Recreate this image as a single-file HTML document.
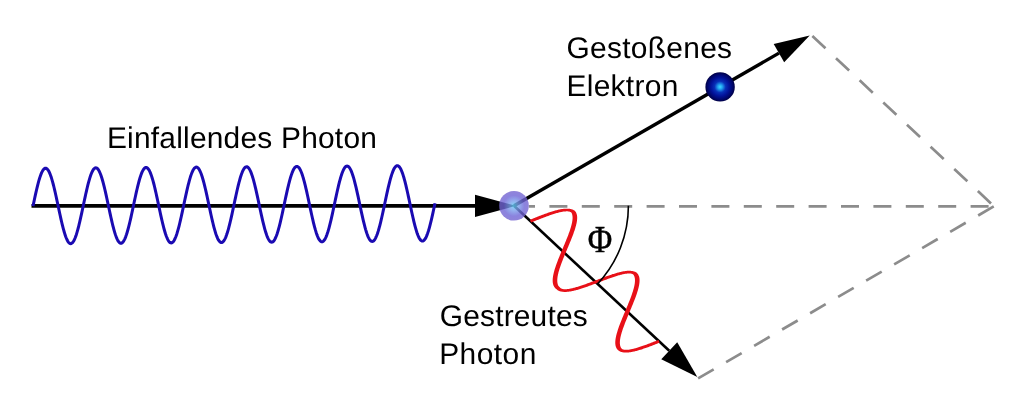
<!DOCTYPE html>
<html><head><meta charset="utf-8"><style>
html,body{margin:0;padding:0;background:#fff;}
body{width:1024px;height:410px;overflow:hidden;position:relative;}
svg{position:absolute;left:0;top:0;will-change:transform;}
.t{font-family:"Liberation Sans",sans-serif;fill:#000;font-size:29.9px;text-rendering:geometricPrecision;}
</style></head><body>
<svg width="1024" height="410" viewBox="0 0 1024 410">
<defs>
<radialGradient id="gp" cx="50%" cy="50%" r="50%">
<stop offset="0" stop-color="#60d0f8"/>
<stop offset="0.3" stop-color="#7aa0ec"/>
<stop offset="0.7" stop-color="#6e64d6"/>
<stop offset="1" stop-color="#7464d0"/>
</radialGradient>
<radialGradient id="ge" cx="50%" cy="50%" r="50%">
<stop offset="0" stop-color="#40d8ff"/>
<stop offset="0.15" stop-color="#22a4f2"/>
<stop offset="0.38" stop-color="#0830b8"/>
<stop offset="0.62" stop-color="#02129a"/>
<stop offset="0.86" stop-color="#00066a"/>
<stop offset="1" stop-color="#000044"/>
</radialGradient>
</defs>
<g fill="none" stroke="#8c8c8c" stroke-width="2.7" stroke-dasharray="18 14.4" stroke-dashoffset="-3">
<path d="M528.8 206.4 L994 206.3" stroke-dashoffset="11.8"/>
<path d="M810.6 34.4 L994 206.2" stroke-dashoffset="-2.4"/>
<path d="M698.1 378.4 L994 206.3" stroke-dashoffset="0"/>
</g>
<path d="M31.5 205.85 L476 205.85" stroke="#000" stroke-width="3.8" fill="none"/>
<path d="M516 205.85 L475 217 L475 194.7 Z" fill="#000"/>
<path d="M33 206.1 L33.5 203.72 L34.01 201.36 L34.51 199.01 L35.01 196.69 L35.51 194.4 L36.02 192.16 L36.52 189.98 L37.02 187.86 L37.52 185.81 L38.02 183.85 L38.53 181.97 L39.03 180.18 L39.53 178.5 L40.03 176.92 L40.54 175.46 L41.04 174.13 L41.54 172.91 L42.05 171.83 L42.55 170.89 L43.05 170.08 L43.55 169.41 L44.05 168.89 L44.56 168.51 L45.06 168.29 L45.56 168.21 L46.06 168.28 L46.57 168.5 L47.07 168.87 L47.57 169.38 L48.08 170.04 L48.58 170.84 L49.08 171.78 L49.58 172.86 L50.09 174.06 L50.59 175.39 L51.09 176.84 L51.59 178.41 L52.09 180.09 L52.6 181.86 L53.1 183.74 L53.6 185.7 L54.11 187.74 L54.61 189.85 L55.11 192.03 L55.61 194.26 L56.11 196.53 L56.62 198.85 L57.12 201.19 L57.62 203.55 L58.12 205.92 L58.63 208.29 L59.13 210.65 L59.63 212.99 L60.14 215.3 L60.64 217.58 L61.14 219.81 L61.64 221.99 L62.14 224.1 L62.65 226.14 L63.15 228.1 L63.65 229.97 L64.16 231.75 L64.66 233.43 L65.16 234.99 L65.66 236.45 L66.16 237.78 L66.67 238.98 L67.17 240.06 L67.67 241 L68.17 241.8 L68.68 242.46 L69.18 242.97 L69.68 243.34 L70.19 243.56 L70.69 243.63 L71.19 243.55 L71.69 243.32 L72.19 242.95 L72.7 242.43 L73.2 241.76 L73.7 240.95 L74.2 240.01 L74.71 238.92 L75.21 237.71 L75.71 236.37 L76.22 234.91 L76.72 233.34 L77.22 231.66 L77.72 229.87 L78.22 227.99 L78.73 226.02 L79.23 223.98 L79.73 221.86 L80.23 219.67 L80.74 217.44 L81.24 215.15 L81.74 212.83 L82.25 210.48 L82.75 208.11 L83.25 205.74 L83.75 203.36 L84.25 200.99 L84.76 198.64 L85.26 196.32 L85.76 194.04 L86.27 191.8 L86.77 189.62 L87.27 187.5 L87.77 185.45 L88.28 183.48 L88.78 181.6 L89.28 179.82 L89.78 178.14 L90.28 176.56 L90.79 175.1 L91.29 173.76 L91.79 172.55 L92.3 171.47 L92.8 170.52 L93.3 169.72 L93.8 169.05 L94.31 168.53 L94.81 168.15 L95.31 167.93 L95.81 167.85 L96.31 167.92 L96.82 168.14 L97.32 168.51 L97.82 169.02 L98.33 169.68 L98.83 170.48 L99.33 171.42 L99.83 172.49 L100.33 173.7 L100.84 175.03 L101.34 176.48 L101.84 178.05 L102.34 179.72 L102.85 181.5 L103.35 183.37 L103.85 185.33 L104.36 187.37 L104.86 189.49 L105.36 191.66 L105.86 193.89 L106.36 196.17 L106.87 198.48 L107.37 200.83 L107.87 203.19 L108.38 205.56 L108.88 207.93 L109.38 210.29 L109.88 212.63 L110.39 214.94 L110.89 217.22 L111.39 219.45 L111.89 221.63 L112.39 223.74 L112.9 225.78 L113.4 227.74 L113.9 229.61 L114.41 231.39 L114.91 233.06 L115.41 234.63 L115.91 236.08 L116.42 237.41 L116.92 238.62 L117.42 239.69 L117.92 240.63 L118.42 241.43 L118.93 242.09 L119.43 242.61 L119.93 242.97 L120.44 243.19 L120.94 243.27 L121.44 243.19 L121.94 242.96 L122.44 242.59 L122.95 242.06 L123.45 241.4 L123.95 240.59 L124.45 239.64 L124.96 238.56 L125.46 237.35 L125.96 236.01 L126.47 234.55 L126.97 232.98 L127.47 231.29 L127.97 229.51 L128.47 227.63 L128.98 225.66 L129.48 223.61 L129.98 221.49 L130.49 219.31 L130.99 217.07 L131.49 214.79 L131.99 212.47 L132.5 210.12 L133 207.75 L133.5 205.38 L134 203 L134.5 200.63 L135.01 198.28 L135.51 195.96 L136.01 193.68 L136.51 191.44 L137.02 189.26 L137.52 187.14 L138.02 185.09 L138.53 183.12 L139.03 181.24 L139.53 179.46 L140.03 177.77 L140.53 176.2 L141.04 174.74 L141.54 173.4 L142.04 172.19 L142.55 171.11 L143.05 170.16 L143.55 169.35 L144.05 168.69 L144.56 168.16 L145.06 167.79 L145.56 167.56 L146.06 167.48 L146.56 167.56 L147.07 167.78 L147.57 168.14 L148.07 168.66 L148.57 169.32 L149.08 170.12 L149.58 171.06 L150.08 172.13 L150.58 173.34 L151.09 174.67 L151.59 176.12 L152.09 177.69 L152.59 179.36 L153.1 181.14 L153.6 183.01 L154.1 184.97 L154.61 187.01 L155.11 189.12 L155.61 191.3 L156.11 193.53 L156.62 195.81 L157.12 198.12 L157.62 200.46 L158.12 202.82 L158.62 205.19 L159.13 207.56 L159.63 209.92 L160.13 212.27 L160.63 214.58 L161.14 216.86 L161.64 219.09 L162.14 221.26 L162.65 223.38 L163.15 225.42 L163.65 227.38 L164.15 229.25 L164.66 231.03 L165.16 232.7 L165.66 234.27 L166.16 235.72 L166.66 237.05 L167.17 238.26 L167.67 239.33 L168.17 240.27 L168.68 241.07 L169.18 241.73 L169.68 242.24 L170.18 242.61 L170.69 242.83 L171.19 242.9 L171.69 242.82 L172.19 242.6 L172.69 242.22 L173.2 241.7 L173.7 241.03 L174.2 240.23 L174.71 239.28 L175.21 238.2 L175.71 236.99 L176.21 235.65 L176.72 234.19 L177.22 232.61 L177.72 230.93 L178.22 229.15 L178.72 227.27 L179.23 225.3 L179.73 223.25 L180.23 221.13 L180.74 218.95 L181.24 216.71 L181.74 214.43 L182.24 212.11 L182.75 209.76 L183.25 207.39 L183.75 205.01 L184.25 202.64 L184.75 200.27 L185.26 197.92 L185.76 195.6 L186.26 193.31 L186.76 191.08 L187.27 188.89 L187.77 186.77 L188.27 184.73 L188.78 182.76 L189.28 180.88 L189.78 179.09 L190.28 177.41 L190.78 175.84 L191.29 174.38 L191.79 173.04 L192.29 171.83 L192.79 170.74 L193.3 169.8 L193.8 168.99 L194.3 168.32 L194.81 167.8 L195.31 167.43 L195.81 167.2 L196.31 167.12 L196.81 167.19 L197.32 167.41 L197.82 167.78 L198.32 168.29 L198.82 168.95 L199.33 169.75 L199.83 170.69 L200.33 171.77 L200.84 172.97 L201.34 174.3 L201.84 175.76 L202.34 177.32 L202.84 179 L203.35 180.78 L203.85 182.65 L204.35 184.61 L204.85 186.65 L205.36 188.76 L205.86 190.94 L206.36 193.17 L206.87 195.45 L207.37 197.76 L207.87 200.1 L208.37 202.46 L208.88 204.83 L209.38 207.2 L209.88 209.56 L210.38 211.9 L210.88 214.22 L211.39 216.49 L211.89 218.72 L212.39 220.9 L212.9 223.01 L213.4 225.05 L213.9 227.01 L214.4 228.89 L214.91 230.66 L215.41 232.34 L215.91 233.91 L216.41 235.36 L216.91 236.69 L217.42 237.89 L217.92 238.97 L218.42 239.91 L218.93 240.71 L219.43 241.37 L219.93 241.88 L220.43 242.25 L220.94 242.47 L221.44 242.54 L221.94 242.46 L222.44 242.24 L222.94 241.86 L223.45 241.34 L223.95 240.67 L224.45 239.86 L224.96 238.92 L225.46 237.84 L225.96 236.62 L226.46 235.29 L226.97 233.83 L227.47 232.25 L227.97 230.57 L228.47 228.78 L228.97 226.9 L229.48 224.94 L229.98 222.89 L230.48 220.77 L230.99 218.59 L231.49 216.35 L231.99 214.06 L232.49 211.74 L233 209.39 L233.5 207.03 L234 204.65 L234.5 202.27 L235 199.91 L235.51 197.56 L236.01 195.24 L236.51 192.95 L237.01 190.71 L237.52 188.53 L238.02 186.41 L238.52 184.36 L239.03 182.4 L239.53 180.52 L240.03 178.73 L240.53 177.05 L241.03 175.47 L241.54 174.01 L242.04 172.68 L242.54 171.46 L243.04 170.38 L243.55 169.44 L244.05 168.63 L244.55 167.96 L245.06 167.44 L245.56 167.06 L246.06 166.84 L246.56 166.76 L247.06 166.83 L247.57 167.05 L248.07 167.42 L248.57 167.93 L249.07 168.59 L249.58 169.39 L250.08 170.33 L250.58 171.41 L251.09 172.61 L251.59 173.94 L252.09 175.39 L252.59 176.96 L253.09 178.64 L253.6 180.41 L254.1 182.29 L254.6 184.25 L255.1 186.29 L255.61 188.4 L256.11 190.58 L256.61 192.81 L257.12 195.08 L257.62 197.4 L258.12 199.74 L258.62 202.1 L259.12 204.47 L259.63 206.84 L260.13 209.2 L260.63 211.54 L261.13 213.85 L261.64 216.13 L262.14 218.36 L262.64 220.54 L263.14 222.65 L263.65 224.69 L264.15 226.65 L264.65 228.52 L265.15 230.3 L265.66 231.98 L266.16 233.54 L266.66 235 L267.16 236.33 L267.67 237.53 L268.17 238.61 L268.67 239.55 L269.18 240.35 L269.68 241.01 L270.18 241.52 L270.68 241.89 L271.19 242.11 L271.69 242.18 L272.19 242.1 L272.69 241.87 L273.19 241.5 L273.7 240.98 L274.2 240.31 L274.7 239.5 L275.21 238.56 L275.71 237.47 L276.21 236.26 L276.71 234.92 L277.22 233.46 L277.72 231.89 L278.22 230.21 L278.72 228.42 L279.23 226.54 L279.73 224.57 L280.23 222.53 L280.73 220.41 L281.24 218.22 L281.74 215.99 L282.24 213.7 L282.74 211.38 L283.25 209.03 L283.75 206.66 L284.25 204.29 L284.75 201.91 L285.25 199.54 L285.76 197.19 L286.26 194.87 L286.76 192.59 L287.26 190.35 L287.77 188.17 L288.27 186.05 L288.77 184 L289.27 182.03 L289.78 180.15 L290.28 178.37 L290.78 176.69 L291.29 175.11 L291.79 173.65 L292.29 172.31 L292.79 171.1 L293.3 170.02 L293.8 169.07 L294.3 168.27 L294.8 167.6 L295.31 167.08 L295.81 166.7 L296.31 166.48 L296.81 166.4 L297.31 166.47 L297.82 166.69 L298.32 167.06 L298.82 167.57 L299.32 168.23 L299.83 169.03 L300.33 169.97 L300.83 171.04 L301.33 172.25 L301.84 173.58 L302.34 175.03 L302.84 176.6 L303.35 178.27 L303.85 180.05 L304.35 181.92 L304.85 183.88 L305.36 185.92 L305.86 188.04 L306.36 190.21 L306.86 192.44 L307.37 194.72 L307.87 197.03 L308.37 199.38 L308.87 201.74 L309.38 204.11 L309.88 206.48 L310.38 208.84 L310.88 211.18 L311.38 213.49 L311.89 215.77 L312.39 218 L312.89 220.18 L313.39 222.29 L313.9 224.33 L314.4 226.29 L314.9 228.16 L315.4 229.94 L315.91 231.61 L316.41 233.18 L316.91 234.63 L317.42 235.96 L317.92 237.17 L318.42 238.24 L318.92 239.18 L319.43 239.98 L319.93 240.64 L320.43 241.16 L320.93 241.52 L321.44 241.74 L321.94 241.82 L322.44 241.74 L322.94 241.51 L323.44 241.14 L323.95 240.61 L324.45 239.95 L324.95 239.14 L325.45 238.19 L325.96 237.11 L326.46 235.9 L326.96 234.56 L327.46 233.1 L327.97 231.53 L328.47 229.84 L328.97 228.06 L329.48 226.18 L329.98 224.21 L330.48 222.16 L330.98 220.04 L331.49 217.86 L331.99 215.62 L332.49 213.34 L332.99 211.02 L333.5 208.67 L334 206.3 L334.5 203.93 L335 201.55 L335.5 199.18 L336.01 196.83 L336.51 194.51 L337.01 192.23 L337.51 189.99 L338.02 187.81 L338.52 185.69 L339.02 183.64 L339.52 181.67 L340.03 179.79 L340.53 178.01 L341.03 176.32 L341.54 174.75 L342.04 173.29 L342.54 171.95 L343.04 170.74 L343.55 169.66 L344.05 168.71 L344.55 167.9 L345.05 167.24 L345.56 166.71 L346.06 166.34 L346.56 166.11 L347.06 166.03 L347.56 166.11 L348.07 166.33 L348.57 166.69 L349.07 167.21 L349.57 167.87 L350.08 168.67 L350.58 169.61 L351.08 170.68 L351.58 171.89 L352.09 173.22 L352.59 174.67 L353.09 176.24 L353.6 177.91 L354.1 179.69 L354.6 181.56 L355.1 183.52 L355.61 185.56 L356.11 187.67 L356.61 189.85 L357.11 192.08 L357.62 194.36 L358.12 196.67 L358.62 199.01 L359.12 201.37 L359.62 203.74 L360.13 206.11 L360.63 208.47 L361.13 210.82 L361.63 213.13 L362.14 215.41 L362.64 217.64 L363.14 219.81 L363.64 221.93 L364.15 223.97 L364.65 225.93 L365.15 227.8 L365.65 229.58 L366.16 231.25 L366.66 232.82 L367.16 234.27 L367.67 235.6 L368.17 236.81 L368.67 237.88 L369.17 238.82 L369.68 239.62 L370.18 240.28 L370.68 240.79 L371.18 241.16 L371.69 241.38 L372.19 241.45 L372.69 241.37 L373.19 241.15 L373.69 240.77 L374.2 240.25 L374.7 239.58 L375.2 238.78 L375.7 237.83 L376.21 236.75 L376.71 235.54 L377.21 234.2 L377.71 232.74 L378.22 231.16 L378.72 229.48 L379.22 227.7 L379.73 225.82 L380.23 223.85 L380.73 221.8 L381.23 219.68 L381.74 217.5 L382.24 215.26 L382.74 212.98 L383.24 210.66 L383.75 208.31 L384.25 205.94 L384.75 203.56 L385.25 201.19 L385.75 198.82 L386.26 196.47 L386.76 194.15 L387.26 191.86 L387.76 189.63 L388.27 187.44 L388.77 185.32 L389.27 183.28 L389.77 181.31 L390.28 179.43 L390.78 177.64 L391.28 175.96 L391.79 174.39 L392.29 172.93 L392.79 171.59 L393.29 170.38 L393.8 169.29 L394.3 168.35 L394.8 167.54 L395.3 166.87 L395.81 166.35 L396.31 165.98 L396.81 165.75 L397.31 165.67 L397.81 165.74 L398.32 165.96 L398.82 166.33 L399.32 166.84 L399.82 167.5 L400.33 168.3 L400.83 169.24 L401.33 170.32 L401.83 171.52 L402.34 172.85 L402.84 174.31 L403.34 175.87 L403.85 177.55 L404.35 179.33 L404.85 181.2 L405.35 183.16 L405.86 185.2 L406.36 187.31 L406.86 189.49 L407.36 191.72 L407.87 194 L408.37 196.31 L408.87 198.65 L409.37 201.01 L409.88 203.38 L410.38 205.75 L410.88 208.11 L411.38 210.45 L411.88 212.77 L412.39 215.04 L412.89 217.27 L413.39 219.45 L413.89 221.56 L414.4 223.6 L414.9 225.56 L415.4 227.44 L415.9 229.21 L416.41 230.89 L416.91 232.46 L417.41 233.91 L417.92 235.24 L418.42 236.44 L418.92 237.52 L419.42 238.46 L419.93 239.26 L420.43 239.92 L420.93 240.43 L421.43 240.8 L421.94 241.02 L422.44 241.09 L422.94 241.01 L423.44 240.79 L423.94 240.41 L424.45 239.89 L424.95 239.22 L425.45 238.41 L425.95 237.47 L426.46 236.39 L426.96 235.17 L427.46 233.84 L427.96 232.38 L428.47 230.8 L428.97 229.12 L429.47 227.33 L429.98 225.45 L430.48 223.49 L430.98 221.44 L431.48 219.32 L431.99 217.14 L432.49 214.9 L432.99 212.61 L433.49 210.29 L434 207.94 L434.5 205.58 L435 203.2" fill="none" stroke="#1a0ab2" stroke-width="3.0"/>
<path d="M514 205.8 L778.94 53.12" stroke="#000" stroke-width="3.4" fill="none"/>
<path d="M809.7 35.4 L784.18 62.22 L773.7 44.03 Z" fill="#000"/>
<path d="M514 205.8 L669.24 350.79" stroke="#000" stroke-width="2.6" fill="none"/>
<path d="M697.3 377 L661.25 359.34 L677.22 342.24 Z" fill="#000"/>
<path d="M531.01 222.57 L531.93 222.2 L532.86 221.82 L533.78 221.45 L534.7 221.09 L535.62 220.72 L536.53 220.35 L537.45 219.99 L538.36 219.63 L539.26 219.27 L540.17 218.92 L541.06 218.57 L541.96 218.22 L542.84 217.88 L543.73 217.54 L544.6 217.21 L545.47 216.89 L546.33 216.57 L547.19 216.25 L548.03 215.95 L548.87 215.65 L549.7 215.35 L550.52 215.07 L551.33 214.79 L552.14 214.53 L552.93 214.27 L553.71 214.02 L554.48 213.77 L555.24 213.54 L555.99 213.32 L556.73 213.11 L557.45 212.91 L558.16 212.72 L558.86 212.54 L559.55 212.37 L560.22 212.22 L560.88 212.07 L561.52 211.94 L562.15 211.82 L562.77 211.71 L563.37 211.62 L563.95 211.54 L564.52 211.47 L565.07 211.41 L565.61 211.38 L566.13 211.35 L566.63 211.34 L567.11 211.34 L567.58 211.36 L568.03 211.4 L568.46 211.45 L568.86 211.52 L569.25 211.6 L569.62 211.7 L569.96 211.82 L570.28 211.95 L570.58 212.09 L570.85 212.25 L571.1 212.43 L571.32 212.61 L571.52 212.8 L571.69 213 L571.78 213.19 L571.78 213.35 L571.83 213.55 L571.92 213.78 L572.01 214.02 L572.09 214.27 L572.17 214.54 L572.25 214.81 L572.31 215.1 L572.37 215.41 L572.43 215.74 L572.48 216.08 L572.51 216.44 L572.54 216.82 L572.56 217.22 L572.57 217.64 L572.57 218.07 L572.56 218.53 L572.53 219 L572.49 219.48 L572.44 219.99 L572.38 220.51 L572.3 221.05 L572.21 221.6 L572.11 222.17 L572 222.75 L571.88 223.34 L571.74 223.95 L571.59 224.57 L571.43 225.2 L571.26 225.85 L571.08 226.51 L570.88 227.17 L570.68 227.85 L570.47 228.54 L570.24 229.24 L570.01 229.95 L569.77 230.67 L569.52 231.39 L569.26 232.13 L568.99 232.87 L568.72 233.62 L568.44 234.38 L568.15 235.14 L567.86 235.91 L567.55 236.69 L567.25 237.47 L566.94 238.26 L566.62 239.05 L566.3 239.85 L565.97 240.65 L565.64 241.45 L565.31 242.26 L564.98 243.07 L564.64 243.88 L564.3 244.7 L563.96 245.51 L563.61 246.33 L563.27 247.15 L562.92 247.97 L562.58 248.79 L562.23 249.61 L561.89 250.43 L561.55 251.25 L561.21 252.07 L560.87 252.88 L560.53 253.7 L560.19 254.51 L559.86 255.32 L559.53 256.13 L559.21 256.93 L558.88 257.73 L558.57 258.53 L558.25 259.32 L557.95 260.11 L557.64 260.89 L557.35 261.67 L557.06 262.44 L556.77 263.21 L556.5 263.97 L556.23 264.72 L555.96 265.47 L555.71 266.22 L555.46 266.95 L555.22 267.68 L554.99 268.4 L554.77 269.12 L554.56 269.82 L554.36 270.52 L554.16 271.21 L553.98 271.89 L553.81 272.57 L553.65 273.23 L553.5 273.89 L553.36 274.54 L553.23 275.18 L553.12 275.81 L553.01 276.44 L552.92 277.05 L552.84 277.66 L552.78 278.26 L552.73 278.84 L552.69 279.42 L552.67 280 L552.67 280.56 L552.68 281.11 L552.7 281.66 L552.75 282.2 L552.81 282.72 L552.89 283.24 L552.99 283.75 L553.11 284.25 L553.25 284.73 L553.42 285.21 L553.6 285.67 L553.81 286.12 L554.04 286.55 L554.29 286.96 L554.56 287.36 L554.86 287.74 L555.17 288.09 L555.5 288.43 L555.85 288.74 L556.22 289.04 L556.59 289.31 L556.89 289.54 L557.07 289.75 L557.33 289.98 L557.7 290.23 L558.08 290.45 L558.47 290.65 L558.86 290.83 L559.27 291 L559.68 291.14 L560.1 291.27 L560.53 291.39 L560.97 291.5 L561.41 291.59 L561.86 291.67 L562.32 291.74 L562.79 291.8 L563.27 291.84 L563.76 291.88 L564.26 291.9 L564.77 291.91 L565.3 291.91 L565.83 291.9 L566.37 291.88 L566.93 291.85 L567.49 291.8 L568.07 291.75 L568.66 291.68 L569.25 291.6 L569.86 291.52 L570.48 291.42 L571.11 291.31 L571.75 291.19 L572.4 291.06 L573.06 290.92 L573.72 290.77 L574.4 290.61 L575.09 290.44 L575.78 290.26 L576.49 290.08 L577.2 289.88 L577.92 289.68 L578.65 289.47 L579.39 289.25 L580.13 289.02 L580.88 288.79 L581.64 288.55 L582.41 288.3 L583.18 288.05 L583.95 287.79 L584.73 287.52 L585.52 287.25 L586.31 286.97 L587.11 286.69 L587.91 286.41 L588.72 286.12 L589.53 285.82 L590.34 285.53 L591.16 285.23 L591.97 284.93 L592.79 284.62 L593.62 284.31 L594.44 284 L595.27 283.69 L596.09 283.38 L596.92 283.07 L597.74 282.75 L598.57 282.44 L599.4 282.13 L600.22 281.82 L601.04 281.5 L601.86 281.19 L602.68 280.88 L603.5 280.58 L604.31 280.27 L605.12 279.97 L605.93 279.67 L606.73 279.38 L607.53 279.08 L608.33 278.8 L609.12 278.51 L609.9 278.23 L610.68 277.96 L611.45 277.69 L612.21 277.43 L612.97 277.17 L613.72 276.92 L614.46 276.67 L615.2 276.43 L615.93 276.2 L616.64 275.98 L617.35 275.76 L618.05 275.56 L618.74 275.36 L619.42 275.16 L620.09 274.98 L620.75 274.81 L621.4 274.65 L622.03 274.49 L622.66 274.35 L623.27 274.21 L623.87 274.09 L624.46 273.98 L625.04 273.87 L625.6 273.78 L626.15 273.7 L626.68 273.64 L627.2 273.58 L627.71 273.54 L628.2 273.51 L628.68 273.49 L629.14 273.48 L629.58 273.49 L630.01 273.52 L630.42 273.55 L630.81 273.6 L631.18 273.67 L631.54 273.75 L631.88 273.85 L632.19 273.96 L632.48 274.08 L632.75 274.22 L633 274.37 L633.23 274.53 L633.43 274.7 L633.61 274.88 L633.73 275.06 L633.8 275.24 L633.9 275.45 L634.02 275.67 L634.13 275.9 L634.23 276.13 L634.33 276.37 L634.42 276.62 L634.5 276.88 L634.58 277.15 L634.65 277.43 L634.72 277.73 L634.78 278.04 L634.83 278.37 L634.88 278.72 L634.92 279.08 L634.94 279.46 L634.96 279.86 L634.97 280.28 L634.97 280.71 L634.96 281.16 L634.93 281.62 L634.9 282.1 L634.85 282.6 L634.79 283.11 L634.72 283.63 L634.64 284.17 L634.54 284.73 L634.44 285.3 L634.32 285.88 L634.19 286.47 L634.05 287.08 L633.9 287.7 L633.74 288.33 L633.56 288.97 L633.38 289.62 L633.19 290.29 L632.98 290.96 L632.77 291.64 L632.55 292.33 L632.32 293.04 L632.08 293.75 L631.83 294.46 L631.58 295.19 L631.31 295.92 L631.04 296.66 L630.76 297.41 L630.48 298.17 L630.19 298.93 L629.89 299.69 L629.59 300.46 L629.29 301.24 L628.97 302.02 L628.66 302.81 L628.34 303.6 L628.01 304.39 L627.69 305.19 L627.36 305.99 L627.02 306.79 L626.69 307.59 L626.35 308.4 L626.01 309.2 L625.68 310.01 L625.34 310.82 L625 311.63 L624.66 312.44 L624.32 313.25 L623.98 314.06 L623.64 314.86 L623.31 315.67 L622.97 316.47 L622.64 317.28 L622.31 318.08 L621.99 318.87 L621.67 319.67 L621.35 320.46 L621.04 321.24 L620.73 322.03 L620.42 322.8 L620.13 323.58 L619.83 324.35 L619.55 325.11 L619.26 325.87 L618.99 326.62 L618.72 327.37 L618.46 328.11 L618.21 328.84 L617.97 329.57 L617.73 330.29 L617.51 331 L617.29 331.7 L617.08 332.4 L616.88 333.09 L616.69 333.77 L616.51 334.45 L616.34 335.11 L616.18 335.77 L616.04 336.42 L615.9 337.06 L615.78 337.69 L615.67 338.32 L615.57 338.93 L615.48 339.54 L615.41 340.13 L615.35 340.72 L615.31 341.3 L615.28 341.88 L615.27 342.44 L615.27 342.99 L615.29 343.54 L615.33 344.08 L615.39 344.6 L615.46 345.12 L615.56 345.63 L615.68 346.13 L615.82 346.62 L615.98 347.09 L616.17 347.55 L616.38 348 L616.62 348.43 L616.88 348.84 L617.16 349.23 L617.47 349.6 L617.8 349.95 L618.14 350.28 L618.5 350.58 L618.87 350.84 L619.25 351.08 L619.64 351.3 L620.04 351.49 L620.45 351.66 L620.86 351.81 L621.28 351.95 L621.71 352.07 L622.15 352.17 L622.6 352.27 L623.05 352.35 L623.51 352.41 L623.99 352.47 L624.47 352.51 L624.96 352.54 L625.47 352.56 L625.98 352.57 L626.51 352.57 L627.05 352.55 L627.6 352.52 L628.16 352.48 L628.73 352.43 L629.32 352.36 L629.91 352.29 L630.52 352.2 L631.14 352.1 L631.77 351.99 L632.41 351.87 L633.06 351.74 L633.72 351.59 L634.39 351.44 L635.07 351.28 L635.76 351.1 L636.46 350.92 L637.17 350.73 L637.89 350.52 L638.62 350.31 L639.36 350.09 L640.1 349.86 L640.85 349.63 L641.62 349.38 L642.38 349.13 L643.16 348.87 L643.94 348.61 L644.73 348.34 L645.52 348.06 L646.32 347.77 L647.13 347.48 L647.94 347.19 L648.75 346.89 L649.57 346.58 L650.4 346.28 L651.22 345.96 L652.05 345.65 L652.89 345.33 L653.72 345 L654.56 344.68 L655.4 344.35 L656.24 344.02 L657.09 343.69 L657.93 343.36 L658.78 343.03 L659.62 342.7 L658.51 339.88 L657.67 340.22 L656.83 340.55 L655.98 340.88 L655.14 341.21 L654.3 341.54 L653.47 341.87 L652.63 342.19 L651.8 342.51 L650.97 342.83 L650.15 343.15 L649.33 343.46 L648.52 343.77 L647.71 344.08 L646.9 344.38 L646.1 344.68 L645.31 344.97 L644.52 345.25 L643.74 345.53 L642.97 345.81 L642.2 346.08 L641.44 346.34 L640.69 346.59 L639.95 346.84 L639.22 347.08 L638.5 347.31 L637.78 347.53 L637.08 347.74 L636.39 347.95 L635.7 348.15 L635.03 348.33 L634.37 348.51 L633.72 348.68 L633.08 348.84 L632.45 348.99 L631.84 349.12 L631.24 349.25 L630.65 349.37 L630.08 349.47 L629.52 349.56 L628.97 349.65 L628.43 349.71 L627.92 349.77 L627.41 349.82 L626.92 349.85 L626.45 349.87 L625.99 349.87 L625.55 349.86 L625.13 349.84 L624.72 349.8 L624.33 349.75 L623.96 349.68 L623.61 349.6 L623.28 349.51 L622.96 349.4 L622.68 349.27 L622.41 349.13 L622.16 348.98 L621.94 348.82 L621.74 348.65 L621.57 348.47 L621.41 348.29 L621.27 348.1 L621.13 347.9 L620.99 347.68 L620.86 347.46 L620.75 347.23 L620.64 347 L620.54 346.76 L620.45 346.51 L620.37 346.25 L620.29 345.99 L620.21 345.71 L620.14 345.41 L620.08 345.1 L620.03 344.78 L619.98 344.44 L619.94 344.08 L619.9 343.7 L619.88 343.31 L619.87 342.9 L619.87 342.48 L619.88 342.03 L619.9 341.57 L619.93 341.1 L619.97 340.61 L620.02 340.1 L620.09 339.58 L620.17 339.05 L620.26 338.5 L620.36 337.94 L620.47 337.36 L620.6 336.77 L620.73 336.17 L620.88 335.55 L621.04 334.93 L621.21 334.29 L621.39 333.64 L621.58 332.98 L621.77 332.32 L621.98 331.64 L622.2 330.95 L622.43 330.25 L622.66 329.55 L622.91 328.83 L623.16 328.11 L623.42 327.38 L623.69 326.64 L623.96 325.9 L624.24 325.14 L624.53 324.39 L624.82 323.62 L625.12 322.85 L625.43 322.08 L625.74 321.3 L626.05 320.52 L626.37 319.73 L626.69 318.94 L627.02 318.14 L627.35 317.34 L627.68 316.54 L628.01 315.74 L628.35 314.94 L628.69 314.13 L629.02 313.32 L629.36 312.51 L629.7 311.7 L630.04 310.89 L630.38 310.09 L630.72 309.28 L631.06 308.47 L631.39 307.66 L631.73 306.86 L632.06 306.05 L632.39 305.25 L632.72 304.46 L633.04 303.66 L633.36 302.87 L633.68 302.08 L633.99 301.3 L634.29 300.52 L634.59 299.74 L634.89 298.97 L635.18 298.2 L635.46 297.44 L635.74 296.69 L636.01 295.94 L636.27 295.2 L636.53 294.46 L636.78 293.73 L637.01 293.01 L637.25 292.29 L637.47 291.58 L637.68 290.88 L637.88 290.19 L638.08 289.5 L638.26 288.83 L638.43 288.16 L638.6 287.5 L638.75 286.84 L638.89 286.2 L639.02 285.56 L639.13 284.94 L639.24 284.32 L639.33 283.71 L639.4 283.11 L639.47 282.51 L639.52 281.93 L639.55 281.36 L639.57 280.79 L639.57 280.23 L639.56 279.68 L639.53 279.14 L639.48 278.61 L639.41 278.09 L639.32 277.57 L639.2 277.07 L639.07 276.58 L638.91 276.1 L638.73 275.64 L638.53 275.18 L638.3 274.75 L638.04 274.33 L637.77 273.93 L637.46 273.56 L637.14 273.2 L636.8 272.87 L636.4 272.55 L635.95 272.27 L635.52 272.05 L635.12 271.86 L634.71 271.69 L634.29 271.54 L633.86 271.4 L633.43 271.28 L632.99 271.18 L632.55 271.09 L632.09 271.01 L631.62 270.94 L631.15 270.89 L630.66 270.84 L630.17 270.81 L629.66 270.79 L629.15 270.78 L628.62 270.79 L628.08 270.8 L627.53 270.83 L626.96 270.87 L626.39 270.92 L625.81 270.99 L625.21 271.06 L624.6 271.15 L623.99 271.24 L623.36 271.35 L622.72 271.47 L622.07 271.6 L621.41 271.74 L620.74 271.89 L620.06 272.05 L619.37 272.22 L618.68 272.4 L617.97 272.58 L617.26 272.78 L616.54 272.98 L615.8 273.2 L615.07 273.42 L614.32 273.65 L613.57 273.88 L612.81 274.12 L612.04 274.37 L611.27 274.63 L610.49 274.89 L609.7 275.16 L608.91 275.43 L608.12 275.71 L607.32 275.99 L606.52 276.28 L605.71 276.57 L604.9 276.87 L604.09 277.16 L603.27 277.47 L602.45 277.77 L601.63 278.08 L600.81 278.38 L599.98 278.69 L599.16 279.01 L598.33 279.32 L597.5 279.63 L596.68 279.94 L595.85 280.26 L595.03 280.57 L594.2 280.88 L593.38 281.19 L592.56 281.5 L591.74 281.81 L590.93 282.12 L590.11 282.42 L589.31 282.72 L588.5 283.02 L587.7 283.31 L586.9 283.6 L586.11 283.89 L585.32 284.17 L584.54 284.45 L583.77 284.72 L583 284.99 L582.24 285.25 L581.48 285.51 L580.73 285.76 L579.99 286 L579.26 286.23 L578.53 286.46 L577.82 286.69 L577.11 286.9 L576.41 287.11 L575.72 287.3 L575.04 287.49 L574.37 287.68 L573.72 287.85 L573.07 288.01 L572.43 288.17 L571.81 288.31 L571.19 288.44 L570.59 288.57 L570 288.68 L569.42 288.79 L568.85 288.88 L568.3 288.96 L567.76 289.03 L567.23 289.09 L566.72 289.14 L566.22 289.18 L565.74 289.2 L565.27 289.21 L564.81 289.21 L564.37 289.2 L563.95 289.17 L563.54 289.13 L563.15 289.08 L562.78 289.01 L562.42 288.93 L562.08 288.83 L561.76 288.72 L561.46 288.6 L561.18 288.46 L560.92 288.32 L560.68 288.16 L560.47 287.99 L560.27 287.82 L560.09 287.63 L559.93 287.45 L559.79 287.25 L559.56 287.03 L559.21 286.78 L558.93 286.55 L558.76 286.33 L558.61 286.11 L558.47 285.88 L558.34 285.65 L558.22 285.41 L558.1 285.17 L558 284.92 L557.9 284.66 L557.81 284.39 L557.73 284.11 L557.65 283.82 L557.57 283.52 L557.51 283.2 L557.45 282.87 L557.4 282.52 L557.35 282.16 L557.32 281.78 L557.29 281.38 L557.27 280.97 L557.27 280.54 L557.27 280.1 L557.29 279.64 L557.31 279.17 L557.35 278.67 L557.4 278.17 L557.46 277.65 L557.53 277.12 L557.61 276.57 L557.71 276.01 L557.81 275.43 L557.93 274.84 L558.06 274.24 L558.2 273.63 L558.35 273.01 L558.51 272.37 L558.68 271.72 L558.87 271.07 L559.06 270.4 L559.26 269.72 L559.47 269.03 L559.69 268.33 L559.92 267.63 L560.16 266.91 L560.41 266.19 L560.67 265.46 L560.93 264.72 L561.2 263.97 L561.48 263.22 L561.76 262.46 L562.05 261.69 L562.35 260.92 L562.65 260.14 L562.96 259.35 L563.28 258.56 L563.59 257.77 L563.92 256.97 L564.24 256.17 L564.57 255.37 L564.91 254.56 L565.24 253.75 L565.58 252.93 L565.92 252.12 L566.26 251.3 L566.61 250.48 L566.95 249.66 L567.3 248.84 L567.64 248.02 L567.99 247.2 L568.33 246.38 L568.67 245.57 L569.01 244.75 L569.35 243.93 L569.69 243.12 L570.02 242.31 L570.36 241.5 L570.68 240.69 L571.01 239.89 L571.33 239.09 L571.65 238.29 L571.96 237.5 L572.26 236.72 L572.56 235.94 L572.86 235.16 L573.14 234.39 L573.42 233.63 L573.7 232.87 L573.96 232.12 L574.22 231.37 L574.47 230.63 L574.71 229.9 L574.94 229.18 L575.17 228.46 L575.38 227.75 L575.58 227.05 L575.78 226.36 L575.96 225.68 L576.13 225 L576.29 224.34 L576.44 223.68 L576.58 223.03 L576.7 222.39 L576.81 221.76 L576.91 221.14 L576.99 220.53 L577.06 219.92 L577.11 219.33 L577.15 218.74 L577.17 218.17 L577.17 217.6 L577.16 217.04 L577.12 216.49 L577.07 215.95 L577 215.42 L576.9 214.9 L576.78 214.39 L576.63 213.89 L576.46 213.4 L576.26 212.93 L576.04 212.48 L575.79 212.04 L575.51 211.63 L575.2 211.24 L574.81 210.84 L574.32 210.48 L573.85 210.21 L573.44 209.98 L573.01 209.77 L572.57 209.59 L572.13 209.42 L571.68 209.28 L571.22 209.15 L570.75 209.04 L570.27 208.94 L569.78 208.86 L569.28 208.79 L568.77 208.73 L568.25 208.69 L567.72 208.66 L567.17 208.64 L566.61 208.64 L566.04 208.65 L565.46 208.67 L564.86 208.71 L564.25 208.76 L563.63 208.82 L562.99 208.9 L562.34 208.99 L561.68 209.09 L561.01 209.2 L560.32 209.33 L559.63 209.47 L558.92 209.62 L558.2 209.78 L557.46 209.96 L556.72 210.14 L555.97 210.34 L555.2 210.55 L554.43 210.76 L553.64 210.99 L552.85 211.23 L552.04 211.48 L551.23 211.73 L550.41 212 L549.58 212.27 L548.74 212.56 L547.89 212.85 L547.04 213.14 L546.18 213.45 L545.31 213.76 L544.43 214.08 L543.55 214.4 L542.67 214.73 L541.77 215.07 L540.88 215.41 L539.98 215.75 L539.07 216.1 L538.16 216.46 L537.25 216.81 L536.33 217.17 L535.42 217.54 L534.5 217.9 L533.57 218.27 L532.65 218.64 L531.73 219.01 L530.8 219.38 L529.88 219.75 Z" fill="#e81018" stroke="none"/>
<path d="M628.4 205.8 A114.4 114.4 0 0 1 597.61 283.89" fill="none" stroke="#000" stroke-width="1.6"/>
<circle cx="514" cy="205.8" r="14.8" fill="url(#gp)" fill-opacity="0.8"/>
<circle cx="720.1" cy="86.9" r="14.7" fill="url(#ge)"/>
<text class="t" x="106.9" y="147.55" letter-spacing="0.227">Einfallendes Photon</text>
<text class="t" x="566.47" y="57.75" letter-spacing="0.307">Gestoßenes</text>
<text class="t" x="566.5" y="95.55" letter-spacing="0.306">Elektron</text>
<text class="t" x="439.77" y="325.55" letter-spacing="0.189">Gestreutes</text>
<text class="t" x="439.2" y="363.63" letter-spacing="0.469">Photon</text>
<text x="0" y="0" font-size="38.5" text-anchor="middle" transform="translate(600,251.85) scale(0.87,1)" stroke="#000" stroke-width="0.5" style="font-family:'Liberation Serif',serif">&#934;</text>
</svg>
</body></html>
